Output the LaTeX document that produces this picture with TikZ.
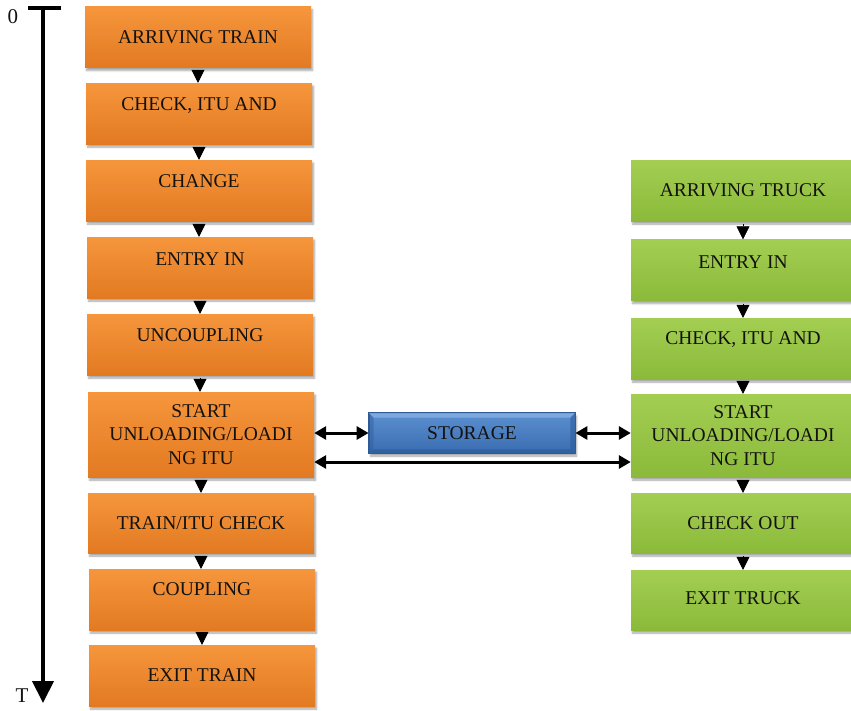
\documentclass[tikz,border=0pt]{standalone}
\usepackage{fontspec}
\setmainfont{Liberation Serif}
\usetikzlibrary{arrows.meta,shadows.blur}

\definecolor{ink}{HTML}{141210}
\definecolor{orangetop}{HTML}{F6963C}
\definecolor{orangebot}{HTML}{E27A22}
\definecolor{greentop}{HTML}{A3CE52}
\definecolor{greenbot}{HTML}{8BBA3A}
\definecolor{bluetop}{HTML}{5A8FD0}
\definecolor{bluebot}{HTML}{3A6DB0}
\definecolor{blueedge}{HTML}{2F5A95}
\definecolor{bluelight}{HTML}{86B0E4}
\definecolor{bluedark}{HTML}{2E5C9C}

\begin{document}
\begin{tikzpicture}[x=1pt,y=-1pt,
  box/.style={rectangle, inner sep=0pt, minimum width=226pt, minimum height=61pt,
    blur shadow={shadow xshift=1.5pt, shadow yshift=-3pt, shadow blur steps=6, shadow opacity=35}},
  trainbox/.style={box, top color=orangetop, bottom color=orangebot},
  truckbox/.style={box, minimum width=224pt, top color=greentop, bottom color=greenbot},
  storebox/.style={box, minimum width=206pt, minimum height=40pt,
    top color=bluetop, bottom color=bluebot, draw=blueedge, line width=0.8pt},
  lbl/.style={font=\fontsize{19.5}{23.5}\selectfont, text=ink, align=center, inner sep=0pt},
  flow/.style={-{Triangle[width=13pt,length=13pt]}, line width=0.5pt, shorten <=3pt},
  link/.style={{Triangle[width=13pt,length=12pt]}-{Triangle[width=13pt,length=12pt]}, line width=3pt},
  axis/.style={-{Triangle[width=21pt,length=22pt]}, line width=4pt}
]
\useasboundingbox (0,0) rectangle (851,710);

% time axis
\coordinate (t0) at (43,8);
\coordinate (tT) at (43,703);
\coordinate (tickL) at (28,8);
\coordinate (tickR) at (61,8);
\draw[line width=4pt] (tickL) -- (tickR);
\draw[axis] (t0) -- (tT);
\node[lbl, font=\fontsize{21}{21}\selectfont] (zero) at (13,17) {0};
\node[lbl, font=\fontsize{21}{21}\selectfont] (tee) at (22,696) {T};

% train column
\node[trainbox] (r1) at (198,37) {};
\node[trainbox] (r2) at (199,113.5) {};
\node[trainbox] (r3) at (199,190.5) {};
\node[trainbox] (r4) at (200,267.5) {};
\node[trainbox] (r5) at (200,344.5) {};
\node[trainbox, minimum height=85pt] (r6) at (201,434.5) {};
\node[trainbox, minimum height=60pt] (r7) at (201,523) {};
\node[trainbox] (r8) at (202,599.5) {};
\node[trainbox] (r9) at (202,675.5) {};

\node[lbl] (r1t) at (r1.center) {ARRIVING TRAIN};
\node[lbl] (r2t) at ([yshift=8pt]r2.center) {CHECK, ITU AND};
\node[lbl] (r3t) at ([yshift=9pt]r3.center) {CHANGE};
\node[lbl] (r4t) at ([yshift=8pt]r4.center) {ENTRY IN};
\node[lbl] (r5t) at ([yshift=9pt]r5.center) {UNCOUPLING};
\node[lbl] (r6t) at (r6.center) {START\\UNLOADING/LOADI\\NG ITU};
\node[lbl] (r7t) at (r7.center) {TRAIN/ITU CHECK};
\node[lbl] (r8t) at ([yshift=10pt]r8.center) {COUPLING};
\node[lbl] (r9t) at (r9.center) {EXIT TRAIN};

\foreach \a/\b in {r1/r2,r2/r3,r3/r4,r4/r5,r5/r6,r6/r7,r7/r8,r8/r9}
  \draw[flow] (\a.south) -- (\a.south |- \b.north);

% truck column
\node[truckbox] (k1) at (743,190.5) {};
\node[truckbox] (k2) at (743,270) {};
\node[truckbox] (k3) at (743,348.5) {};
\node[truckbox, minimum height=83pt] (k4) at (743,435.5) {};
\node[truckbox, minimum height=60pt] (k5) at (743,523) {};
\node[truckbox, minimum height=60pt] (k6) at (743,600) {};

\node[lbl] (k1t) at (k1.center) {ARRIVING TRUCK};
\node[lbl] (k2t) at ([yshift=8pt]k2.center) {ENTRY IN};
\node[lbl] (k3t) at ([yshift=9pt]k3.center) {CHECK, ITU AND};
\node[lbl] (k4t) at (k4.center) {START\\UNLOADING/LOADI\\NG ITU};
\node[lbl] (k5t) at (k5.center) {CHECK OUT};
\node[lbl] (k6t) at ([yshift=2pt]k6.center) {EXIT TRUCK};

\foreach \a/\b in {k1/k2,k2/k3,k3/k4,k4/k5,k5/k6}
  \draw[flow] (\a.south) -- (\a.south |- \b.north);

% storage box with bevelled rim
\node[storebox] (st) at (472,433) {};
\fill[bluelight, opacity=0.8] (st.north west) -- (st.north east)
  -- ([shift={(-5,5)}]st.north east) -- ([shift={(5,5)}]st.north west) -- cycle;
\fill[bluedark, opacity=0.6] (st.north east) -- (st.south east)
  -- ([shift={(-5,-4)}]st.south east) -- ([shift={(-5,5)}]st.north east) -- cycle;
\fill[bluedark, opacity=0.45] (st.north west) -- (st.south west)
  -- ([shift={(5,-4)}]st.south west) -- ([shift={(5,5)}]st.north west) -- cycle;
\fill[bluedark, opacity=0.7] (st.south west) -- (st.south east)
  -- ([shift={(-5,-4)}]st.south east) -- ([shift={(5,-4)}]st.south west) -- cycle;
\draw[blueedge, line width=0.8pt] (st.north west) rectangle (st.south east);
\node[lbl] (stt) at (st.center) {STORAGE};

% transfers between terminals and storage
\draw[link] (r6.east |- st.west) -- (st.west);
\draw[link] (st.east) -- (k4.west |- st.east);
\draw[link] ([yshift=-29pt]r6.east |- st.west) -- ([yshift=-29pt]k4.west |- st.east);
\end{tikzpicture}
\end{document}
